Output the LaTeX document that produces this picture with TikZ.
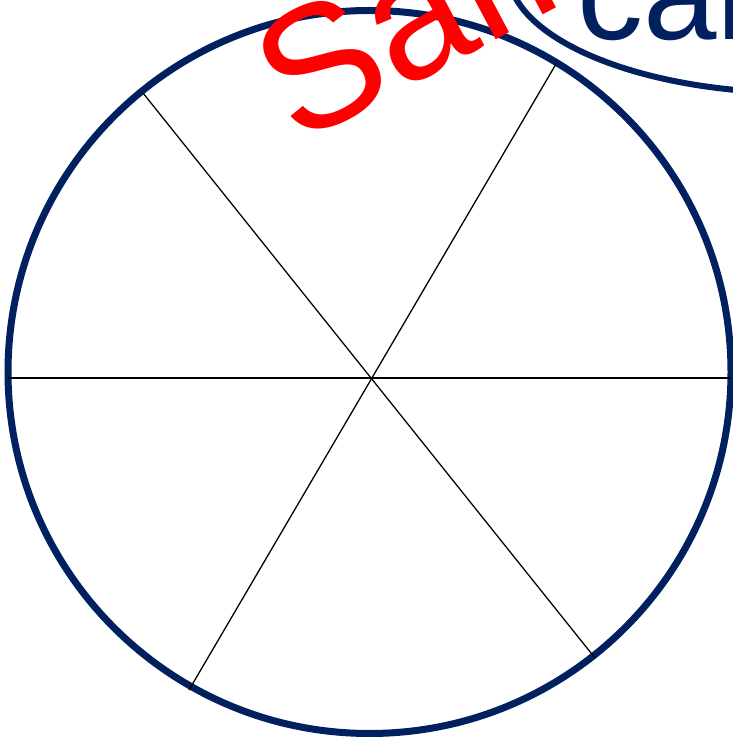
\documentclass[tikz,border=0pt]{standalone}
\usepackage{fontspec}
\setmainfont{Liberation Sans}
\definecolor{navy}{RGB}{0,32,96}
\begin{document}
\begin{tikzpicture}[x=1pt,y=1pt,
  rim/.style={draw=navy,line width=7pt},
  spoke/.style={draw=black,line width=1.3pt},
  ]
\useasboundingbox (0,0) rectangle (733,739);
\clip (0,0) rectangle (733,739);
\fill[white] (0,0) rectangle (733,739);
% wheel
\coordinate (ctr) at (369.5,367);
\draw[rim] (ctr) circle (361.5);
\coordinate (A) at (143,646);
\coordinate (B) at (595,81);
\coordinate (C) at (556,675);
\coordinate (D) at (189,49);
\coordinate (E) at (8,361);
\coordinate (F) at (731,361);
\draw[spoke] (A) -- (B);
\draw[spoke] (C) -- (D);
\draw[spoke] (E) -- (F);
% callout ellipse
\coordinate (ec) at (800,769);
\draw[draw=navy,line width=6pt] (ec) ellipse [x radius=292, y radius=123];
\node[anchor=base west,inner sep=0pt,text=navy,font=\fontsize{132pt}{132pt}\selectfont] (car) at (577,699) {car};
% watermark
\node[anchor=base west,inner sep=0pt,text=red,rotate=28,font=\fontsize{174pt}{174pt}\selectfont] (wm) at (297,593) {Sam};
\end{tikzpicture}
\end{document}
